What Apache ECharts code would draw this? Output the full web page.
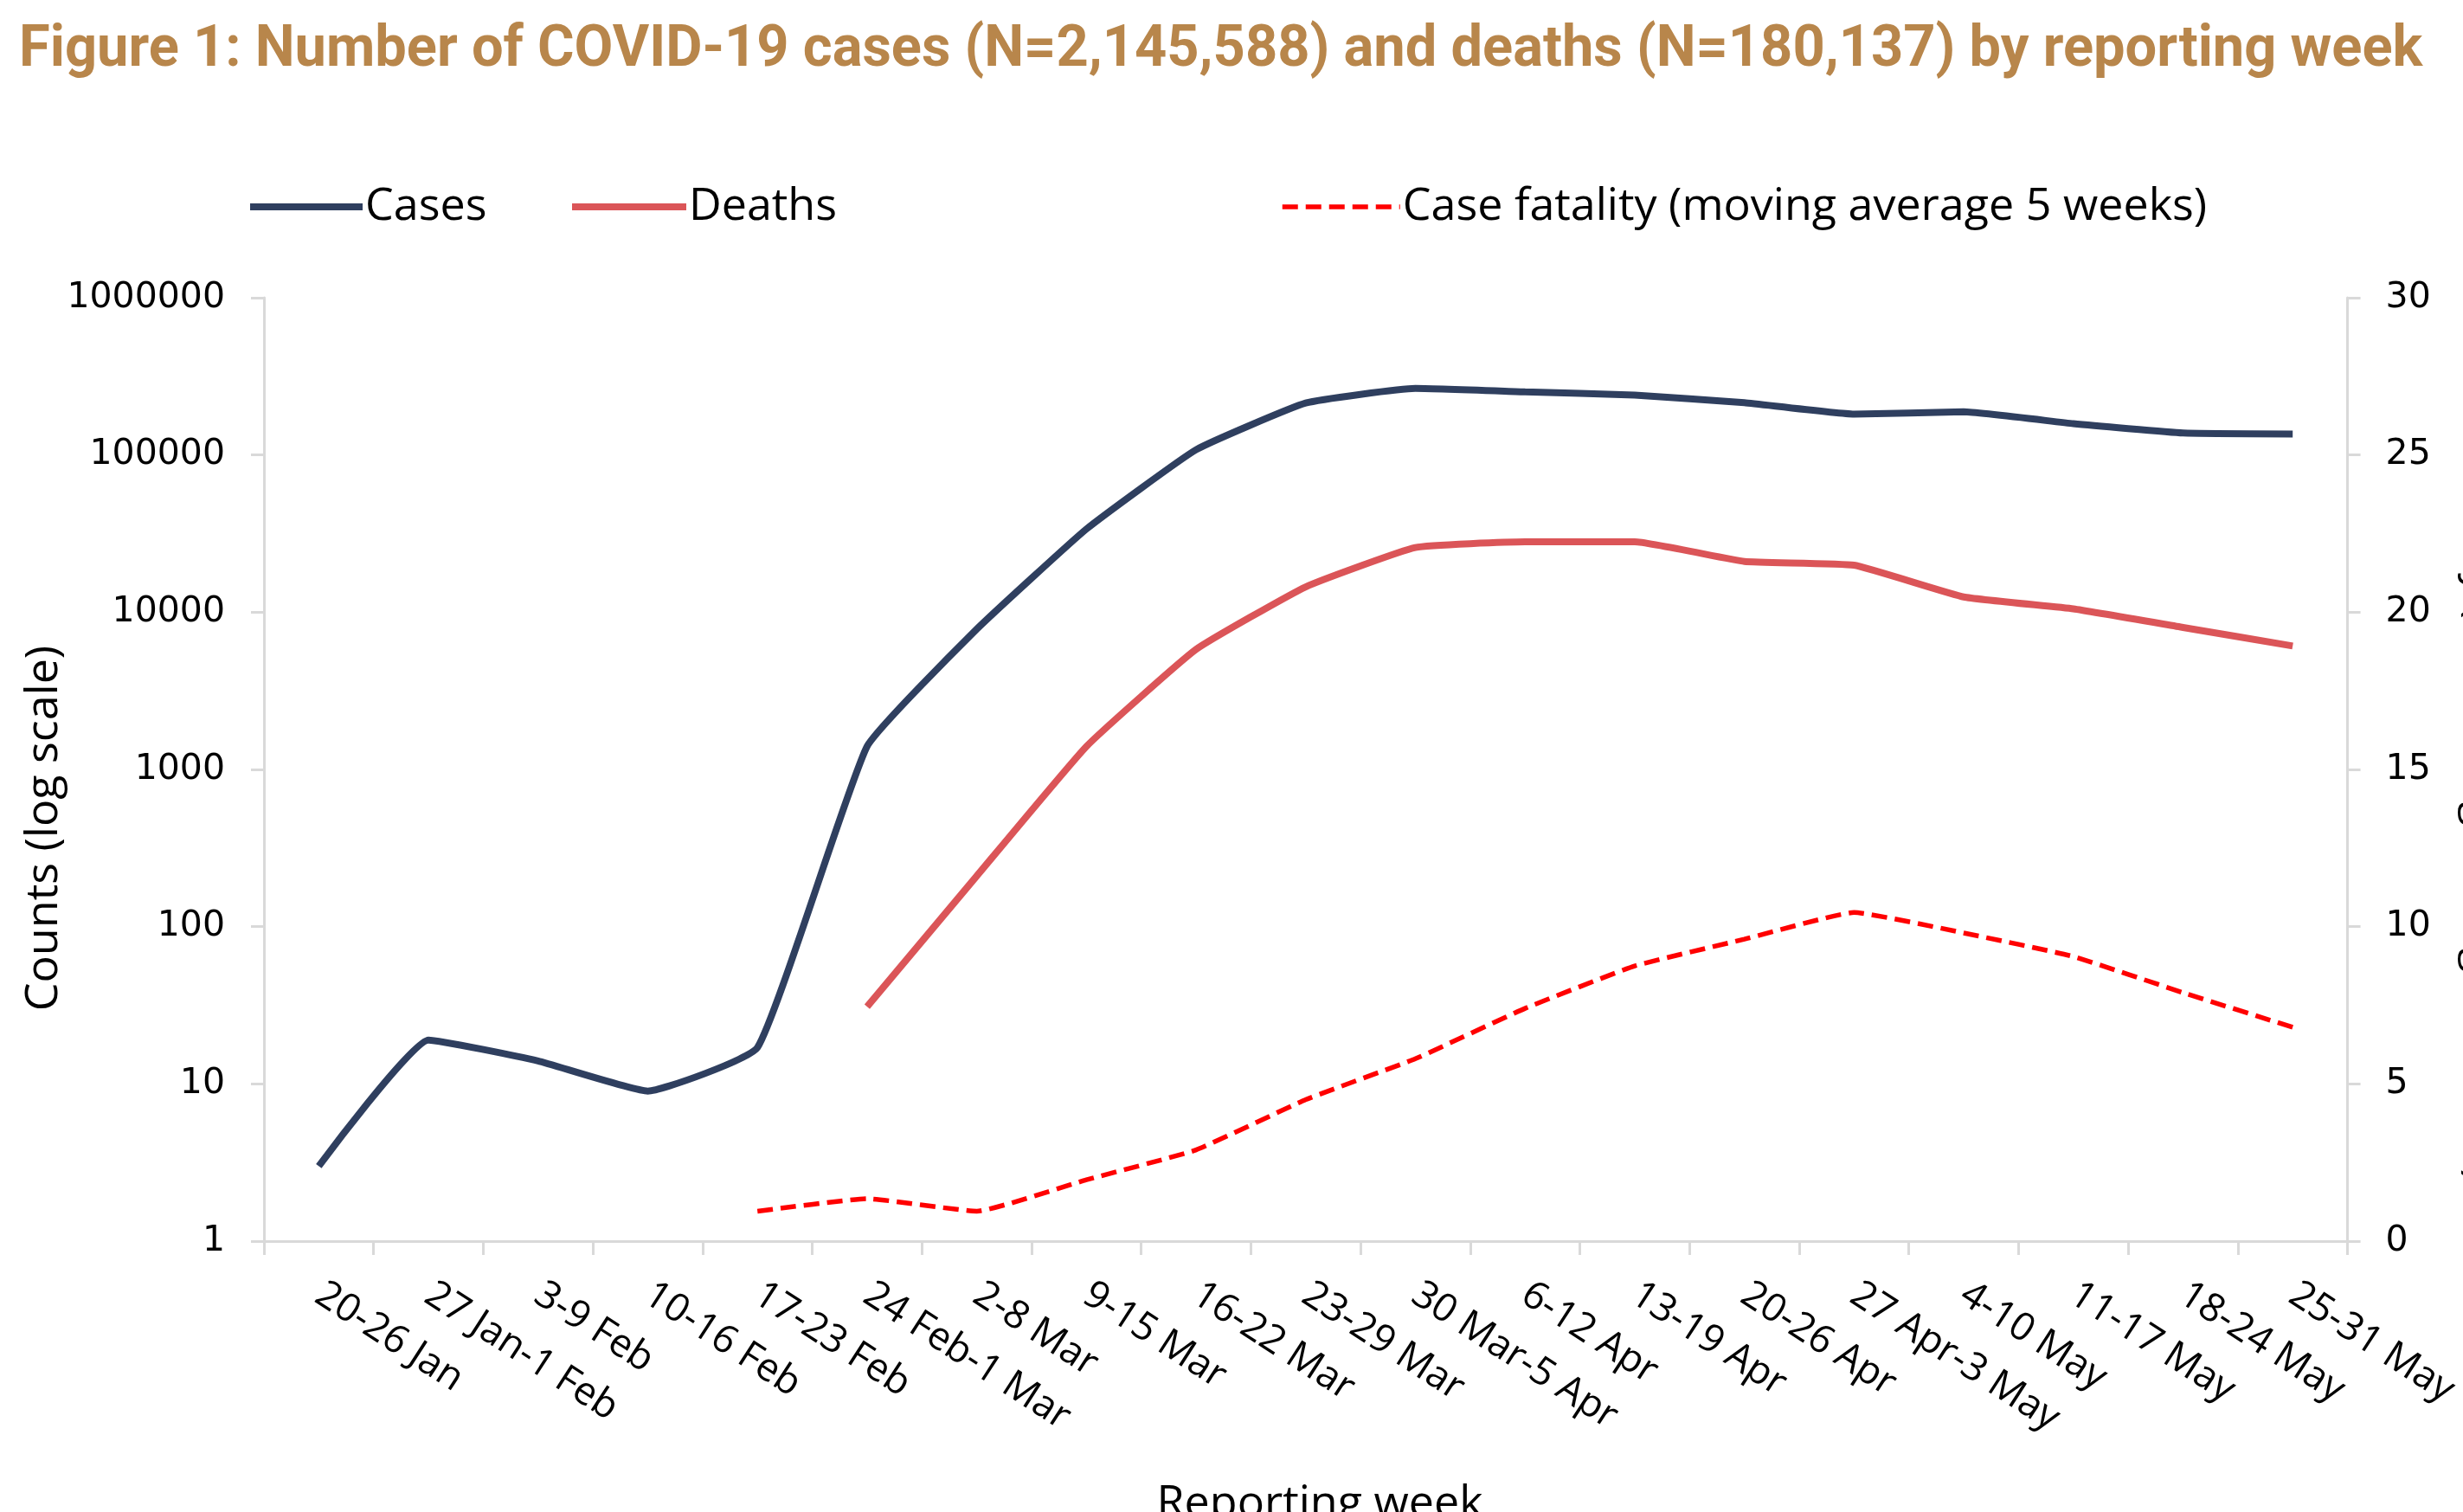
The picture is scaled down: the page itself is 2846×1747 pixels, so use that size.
<!DOCTYPE html>
<html>
<head>
<meta charset="utf-8">
<script src="https://cdn.jsdelivr.net/npm/echarts@6/dist/echarts.min.js"></script>
<style>
  html, body { margin: 0; padding: 0; background: #fff; }
  #chart { width: 2846px; height: 1747px; }
</style>
</head>
<body>
<div id="chart"></div>
<script>
// reporting weeks
const weeks = ['20-26 Jan', '27 Jan-1 Feb', '3-9 Feb', '10-16 Feb', '17-23 Feb', '24 Feb-1 Mar', '2-8 Mar',
  '9-15 Mar', '16-22 Mar', '23-29 Mar', '30 Mar-5 Apr', '6-12 Apr', '13-19 Apr', '20-26 Apr',
  '27 Apr-3 May', '4-10 May', '11-17 May', '18-24 May', '25-31 May']

const cases = [3, 19, 14, 9, 17, 1400, 7800, 33800, 108000, 214000, 265000, 252000, 240000, 215000,
  182000, 188000, 158000, 138000, 136000]
const deaths = [null, null, null, null, null, 31, 210, 1400, 5800, 14500, 25800, 28000, 28000, 21000,
  19900, 12500, 10500, 8000, 6100]
// case fatality %, moving average 5 weeks
const fatality = [null, null, null, null, 0.95, 1.35, 0.95, 1.95, 2.9, 4.5, 5.8, 7.4, 8.75, 9.6,
  10.45, 9.8, 9.05, 7.9, 6.8]

const countTicks = [1, 10, 100, 1000, 10000, 100000, 1000000]

const txtFont = 'Open Sans'
const numFont = 'DejaVu Sans'

const chart = echarts.init(document.getElementById('chart'), null, { renderer: 'canvas' })

const legendBase = {
  top: 213,
  padding: 0,
  orient: 'horizontal',
  itemHeight: 8,
  itemGap: 10,
  itemStyle: { opacity: 0 },
  textStyle: { fontFamily: txtFont, fontSize: 52, color: '#000', padding: [0, 0, 0, -2] }
}

chart.setOption({
  animation: false,
  backgroundColor: '#fff',
  graphic: [
    {
      type: 'text',
      left: 22, top: 26,
      scaleX: 0.985,
      style: {
        text: 'Figure 1: Number of COVID-19 cases (N=2,145,588) and deaths (N=180,137) by reporting week',
        font: 'bold 66px Roboto',
        fill: '#B8864B'
      }
    },
    {
      type: 'text',
      x: 51, y: 957,
      rotation: Math.PI / 2,
      style: {
        text: 'Counts (log scale)',
        font: '52px "Open Sans"',
        fill: '#000',
        align: 'center',
        verticalAlign: 'middle'
      }
    },
    {
      type: 'text',
      x: 1525, y: 1712,
      style: {
        text: 'Reporting week',
        font: '52px "Open Sans"',
        fill: '#000',
        align: 'center',
        verticalAlign: 'top'
      }
    },
    {
      type: 'text',
      x: 2866, y: 885,
      rotation: -Math.PI / 2,
      style: {
        text: 'Case fatality (%, moving average 5 weeks)',
        font: '50px "Open Sans"',
        fill: '#000',
        align: 'center',
        verticalAlign: 'middle'
      }
    }
  ],
  legend: [
    Object.assign({}, legendBase, { left: 285, itemWidth: 130, lineStyle: { width: 8 }, data: ['Cases'] }),
    Object.assign({}, legendBase, { left: 657, itemWidth: 132, lineStyle: { width: 8 }, data: ['Deaths'] }),
    Object.assign({}, legendBase, { left: 1479, itemWidth: 136, lineStyle: { width: 5.5 },
      data: ['Case fatality (moving average 5 weeks)'] })
  ],
  grid: { left: 305, right: 131, top: 344, bottom: 313, containLabel: false },
  xAxis: {
    type: 'category',
    data: weeks,
    boundaryGap: true,
    axisLine: { lineStyle: { color: '#D9D9D9', width: 3 } },
    axisTick: { show: true, length: 16, lineStyle: { color: '#D9D9D9', width: 3 } },
    axisLabel: {
      interval: 0,
      rotate: -33,
      margin: 58,
      fontFamily: txtFont,
      fontSize: 45,
      color: '#000'
    },
    splitLine: { show: false }
  },
  yAxis: [
    {
      type: 'log',
      logBase: 10,
      min: countTicks[0],
      max: countTicks[countTicks.length - 1],
      axisLine: { show: true, lineStyle: { color: '#D9D9D9', width: 3 } },
      axisTick: { show: true, length: 15, lineStyle: { color: '#D9D9D9', width: 3 } },
      axisLabel: {
        margin: 45,
        fontFamily: numFont,
        fontSize: 41,
        color: '#000',
        formatter: v => String(Math.round(v))
      },
      splitLine: { show: false }
    },
    {
      type: 'value',
      min: 0,
      max: 30,
      interval: 5,
      position: 'right',
      axisLine: { show: true, lineStyle: { color: '#D9D9D9', width: 3 } },
      axisTick: { show: true, length: 15, lineStyle: { color: '#D9D9D9', width: 3 } },
      axisLabel: {
        margin: 44,
        fontFamily: numFont,
        fontSize: 41,
        color: '#000'
      },
      splitLine: { show: false }
    }
  ],
  series: [
    {
      name: 'Cases',
      type: 'line',
      data: cases,
      yAxisIndex: 0,
      smooth: 0.12,
      symbol: 'none',
      color: '#2F3F5F',
      lineStyle: { color: '#2F3F5F', width: 8 }
    },
    {
      name: 'Deaths',
      type: 'line',
      data: deaths,
      yAxisIndex: 0,
      smooth: 0.12,
      symbol: 'none',
      color: '#DB5558',
      lineStyle: { color: '#DB5558', width: 8 }
    },
    {
      name: 'Case fatality (moving average 5 weeks)',
      type: 'line',
      data: fatality,
      yAxisIndex: 1,
      smooth: 0.12,
      symbol: 'none',
      color: '#FF0000',
      lineStyle: { color: '#FF0000', width: 5.5, type: [18, 9] }
    }
  ]
})
</script>
</body>
</html>
